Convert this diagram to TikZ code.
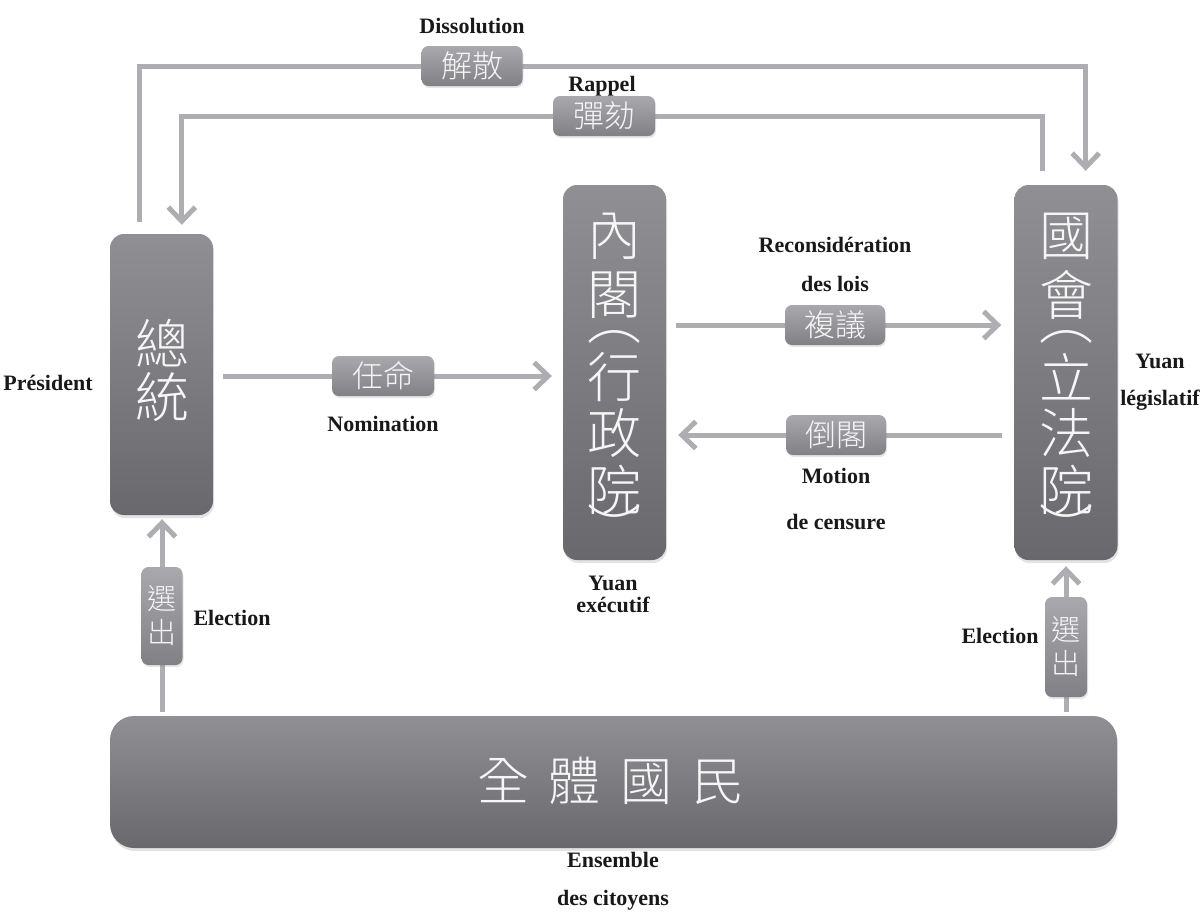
\documentclass[tikz,border=0pt]{standalone}
\usepackage{fontspec}
\setmainfont{Liberation Serif}
\newfontfamily\cjk{Noto Sans CJK TC Light}
\usetikzlibrary{arrows.meta,shadows,backgrounds,calc}
\definecolor{boxtop}{RGB}{143,143,148}
\definecolor{boxbot}{RGB}{104,104,109}
\definecolor{tagtop}{RGB}{168,168,173}
\definecolor{tagbot}{RGB}{128,128,133}
\definecolor{conncol}{RGB}{174,174,178}
\definecolor{cjkwhite}{RGB}{246,246,246}
\tikzset{
  bigbox/.style={rounded corners=14pt, top color=boxtop, bottom color=boxbot, draw=none, inner sep=0pt,
    drop shadow={opacity=0.22, shadow xshift=1pt, shadow yshift=-3pt}},
  tag/.style={rounded corners=7pt, top color=tagtop, bottom color=tagbot, draw=none, inner sep=0pt,
    text=cjkwhite, font=\cjk\fontsize{31}{38}\selectfont, align=center,
    drop shadow={opacity=0.2, shadow xshift=1pt, shadow yshift=-2pt}},
  vtag/.style={tag, font=\cjk\fontsize{29}{34}\selectfont},
  conn/.style={draw=conncol, line width=5pt},
  arr/.style={conn, -{Straight Barb[length=14pt,width=27pt]}},
  lab/.style={font=\bfseries\fontsize{22}{26}\selectfont, text=black!90, align=center, inner sep=0pt},
  vch/.style={text=cjkwhite, font=\cjk\fontsize{54}{54}\selectfont, inner sep=0pt},
}
\begin{document}
\begin{tikzpicture}[x=1pt,y=-1pt]
\useasboundingbox (0,0) rectangle (1204,913);
% main boxes
\node[bigbox, minimum width=103pt, minimum height=281pt] (pres) at (161.5,374.5) {};
\node[bigbox, minimum width=103pt, minimum height=375pt] (cab) at (614.5,372.5) {};
\node[bigbox, minimum width=103pt, minimum height=375pt] (leg) at (1066,372.5) {};
\node[bigbox, rounded corners=24pt, minimum width=1007pt, minimum height=132pt] (people) at (613.5,782) {};
% box texts
\node[vch, font=\cjk\fontsize{54}{54}\selectfont] (pres1) at (162,343) {總};
\node[vch, font=\cjk\fontsize{54}{54}\selectfont] (pres2) at (162,397) {統};
\foreach \c/\y [count=\i] in {內/236,閣/295,︵/337,行/377,政/433,院/490,︶/527}
  \node[vch] (cab\i) at (614.5,\y) {\c};
\foreach \c/\y [count=\i] in {國/236,會/295,︵/337,立/377,法/433,院/490,︶/527}
  \node[vch] (leg\i) at (1066,\y) {\c};
\node[text=cjkwhite, font=\cjk\fontsize{52}{52}\selectfont, inner sep=0pt] (ptext) at (611,781)
  {全\hspace{20pt}體\hspace{20pt}國\hspace{20pt}民};
% tags
\node[tag, minimum width=101pt, minimum height=40pt] (diss) at (472,66) {解散};
\node[tag, minimum width=102pt, minimum height=40pt] (rap) at (604,116) {彈劾};
\node[tag, minimum width=102pt, minimum height=40pt] (nom) at (383,376) {任命};
\node[tag, minimum width=100pt, minimum height=40pt] (rec) at (835,325) {複議};
\node[tag, minimum width=100pt, minimum height=40pt] (mot) at (836,435) {倒閣};
\node[vtag, minimum width=41pt, minimum height=98pt] (ell) at (162,616) {選\\出};
\node[vtag, minimum width=42pt, minimum height=100pt] (elr) at (1066,647) {選\\出};
% connectors
\begin{pgfonlayer}{background}
\draw[arr] ([xshift=30pt,yshift=12pt]pres.north west) |- (diss.center) -| ([xshift=-32pt,yshift=14pt]leg.north east);
\draw[arr] ([xshift=28pt,yshift=14pt]leg.north west) |- (rap.center) -| ([xshift=72pt,yshift=9pt]pres.north west);
\draw[arr] ([xshift=10pt]pres.east |- nom.center) -- ([xshift=-11pt]cab.west |- nom.center);
\draw[arr] ([xshift=10pt]cab.east |- rec.center) -- ([xshift=-13pt]leg.west |- rec.center);
\draw[arr] ([xshift=-12pt]leg.west |- mot.center) -- ([xshift=12pt]cab.east |- mot.center);
\draw[arr] ([yshift=4pt]people.north -| ell.center) -- ([yshift=-4pt]pres.south -| ell.center);
\draw[arr] ([yshift=4pt]people.north -| elr.center) -- ([yshift=-6pt]leg.south -| elr.center);
\end{pgfonlayer}
% labels
\node[lab] (ldiss) at (472,26) {Dissolution};
\node[lab] (lrap) at (602,86) {Rappel};
\node[lab] (lrec) at (835,264) {Reconsidération\\[13pt]des lois};
\node[lab] (lnom) at (383,424) {Nomination};
\node[lab] (lpres) at (48,383) {Président};
\node[lab] (lmot) at (836,499) {Motion\\[20pt]de censure};
\node[lab] (lcab) at (613,594) {Yuan\\[-4pt]exécutif};
\node[lab] (lleg) at (1160,382) {Yuan\\[11pt]législatif};
\node[lab] (lell) at (232,618) {Election};
\node[lab] (lelr) at (1000,636) {Election};
\node[lab] (lpeo) at (613,881) {Ensemble\\[12pt]des citoyens};
\end{tikzpicture}
\end{document}
